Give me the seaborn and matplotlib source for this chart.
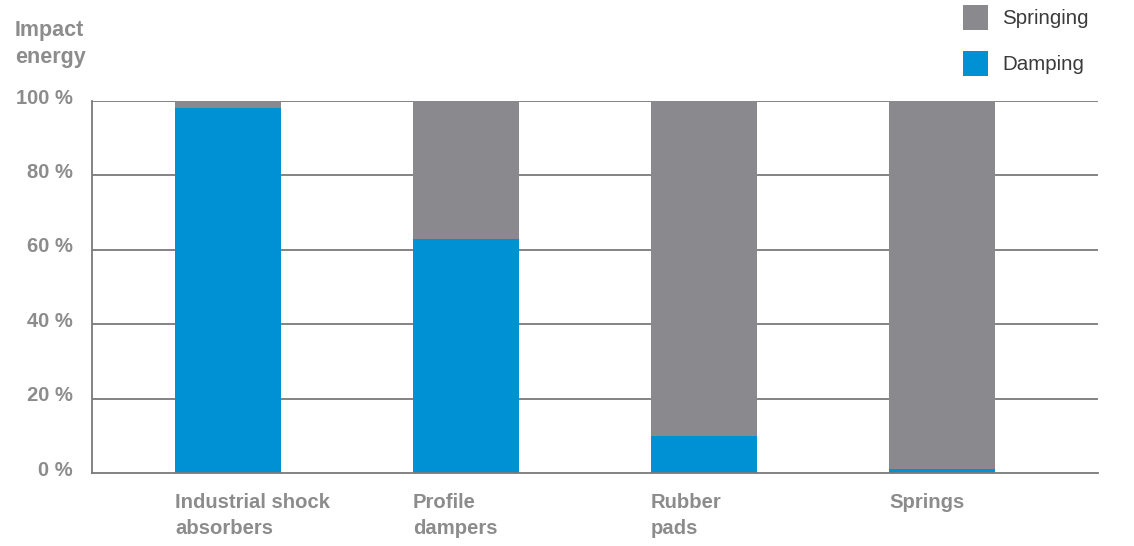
import matplotlib
matplotlib.use("Agg")
import matplotlib.pyplot as plt
import matplotlib.transforms as mtransforms
from matplotlib.patches import Patch
import seaborn as sns
import pandas as pd

categories = ["Industrial shock\nabsorbers", "Profile\ndampers", "Rubber\npads", "Springs"]
damping = [98, 63, 10, 1]
springing = [2, 37, 90, 99]
yticks = [0, 20, 40, 60, 80, 100]
ytick_labels = ["0 %", "20 %", "40 %", "60 %", "80 %", "100 %"]

BLUE = "#0090d4"
GREY = "#8a8a8e"
TEXT = "#8c8c8c"
LINE = "#7a7a7a"

sns.set_theme(style="white")
plt.rcParams["font.family"] = ["Liberation Sans", "DejaVu Sans"]

df = pd.DataFrame({
    "category": categories,
    "damping": damping,
    "total": [d + s for d, s in zip(damping, springing)],
})

fig = plt.figure(figsize=(11.34, 5.46), dpi=100)
ax = fig.add_axes([92 / 1134, 1 - 473 / 546, (1098 - 92) / 1134, (473 - 101) / 546])

bar_w = 0.445
sns.barplot(data=df, x="category", y="total", color=GREY, width=bar_w,
            saturation=1, ax=ax, zorder=3, linewidth=0, edgecolor="none")
sns.barplot(data=df, x="category", y="damping", color=BLUE, width=bar_w,
            saturation=1, ax=ax, zorder=4, linewidth=0, edgecolor="none")

ax.set_ylim(0, 100)
ax.set_xlim(-0.571, 3.655)
ax.set_yticks(yticks)
ax.set_yticklabels(ytick_labels, fontsize=14.5, fontweight="bold", color=TEXT)
ax.tick_params(axis="y", length=0, pad=14)
ax.tick_params(axis="x", length=0)
for lbl in ax.get_yticklabels():
    lbl.set_transform(lbl.get_transform() + mtransforms.ScaledTranslation(0, 5 / 100, fig.dpi_scale_trans))
ax.set_xticks(range(len(categories)))
ax.set_xticklabels([])
ax.set_xlabel("")
ax.set_ylabel("")

for y in yticks[1:]:
    ax.axhline(y, color=LINE, lw=1.3, zorder=1)

for s in ["top", "right"]:
    ax.spines[s].set_visible(False)
ax.spines["left"].set_color(LINE)
ax.spines["left"].set_linewidth(1.3)
ax.spines["bottom"].set_color(LINE)
ax.spines["bottom"].set_linewidth(1.3)
ax.spines["bottom"].set_zorder(5)

trans = mtransforms.blended_transform_factory(ax.transData, ax.transAxes)
for i, cat in enumerate(categories):
    ax.text(i - bar_w / 2, -0.054, cat, transform=trans, ha="left", va="top",
            fontsize=14.6, fontweight="bold", color=TEXT, linespacing=1.45)

fig.text(15 / 1134, 1 - 20 / 546, "Impact\nenergy", ha="left", va="top",
         fontsize=15.5, fontweight="bold", color=TEXT, linespacing=1.4)

handles = [Patch(facecolor=GREY, edgecolor="none", label="Springing"),
           Patch(facecolor=BLUE, edgecolor="none", label="Damping")]
fig.legend(handles=handles, loc="upper left", bbox_to_anchor=(949 / 1134, 1 + 9 / 546),
           frameon=False, fontsize=14.8, handlelength=1.2, handleheight=1.45,
           labelspacing=1.05, handletextpad=0.7, labelcolor="#3a3a3a",
           borderaxespad=0.3)

fig.savefig("out.png", dpi=100)
